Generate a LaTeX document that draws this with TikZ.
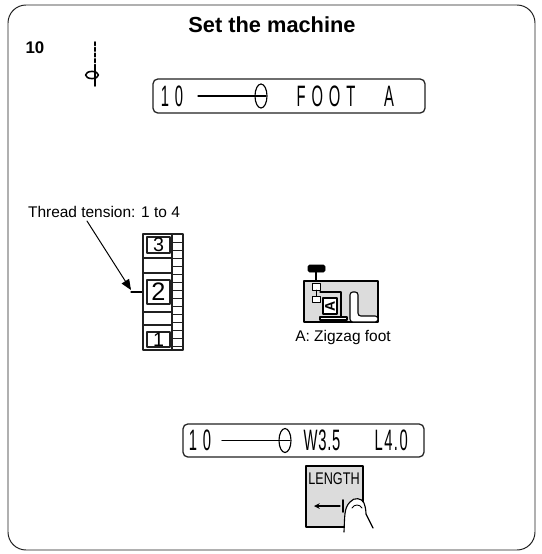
\documentclass[tikz,border=0pt]{standalone}
\usepackage{fontspec}
\setmainfont{Liberation Sans}
\newfontfamily\lcd{Liberation Sans}
\usetikzlibrary{arrows}
\definecolor{sqsqsq}{rgb}{0.12549019607843137,0.12549019607843137,0.12549019607843137}
\definecolor{dcdcdc}{rgb}{0.8627450980392157,0.8627450980392157,0.8627450980392157}
\newcommand{\lcdtext}[2][40]{\scalebox{0.5}[1]{\fontsize{21}{21}\selectfont\lcd\addfontfeature{LetterSpace=#1}#2}}
\tikzset{
  lcdbox/.style={line width=0.9pt,color=sqsqsq,rounded corners=0.12cm},
  dialline/.style={line width=0.8pt,color=sqsqsq}
}

\begin{document}
\begin{tikzpicture}[line cap=round,line join=round,>=triangle 45,x=1.0cm,y=1.0cm,scale=1]
\useasboundingbox (0.,0.) rectangle (13.525,-13.85);
\draw [line width=0.7pt,color=sqsqsq,rounded corners=0.45cm] (0.2,-0.125) rectangle (13.375,-13.75);
\node (title) at (6.8,-0.625) {\fontsize{15.5}{18}\selectfont\bfseries Set the machine};
\node (stitchno) at (0.875,-1.2) {\fontsize{12}{14}\selectfont\bfseries 10};
% needle position
\draw [line width=1.1pt,dash pattern=on 2.5pt off 1.5pt] (2.375,-1.05) -- (2.375,-1.65);
\draw [line width=1.1pt] (2.375,-1.65) -- (2.375,-2.15);
\draw [line width=1.1pt] (2.3,-1.875) ellipse (0.16cm and 0.09cm);
% first display
\draw [lcdbox] (3.825,-1.975) rectangle (10.625,-2.825);
\node (dispa) at (4.3,-2.4) {\lcdtext{10}};
\draw [line width=0.8pt] (4.95,-2.4) -- (6.65,-2.4);
\draw [line width=0.8pt] (6.525,-2.4) ellipse (0.15cm and 0.3cm);
\node (dispb) at (8.15,-2.4) {\lcdtext{FOOT}};
\node (dispc) at (9.725,-2.4) {\lcdtext{A}};
% tension dial
\node (tension) at (2.6,-5.3) {\fontsize{11}{13}\selectfont Thread tension: 1 to 4};
\coordinate (tstart) at (2.175,-5.525);
\coordinate (ttip) at (3.275,-7.25);
\coordinate (tdial) at (3.575,-7.3);
\draw [->,line width=0.7pt] (tstart) -- (ttip);
\draw [line width=0.8pt] (3.275,-7.3) -- (tdial);
\draw [dialline] (3.575,-5.85) rectangle (4.575,-8.75);
\draw [dialline] (4.3,-5.85) -- (4.3,-8.75);
\foreach \y in {-6.45,-6.825,-7.8,-8.125}
\draw [dialline] (3.575,\y) -- (4.3,\y);
\foreach \y in {-6.05,-6.25,-6.45,-6.65,-6.85,-7.05,-7.25,-7.45,-7.65,-7.85,-8.05,-8.25,-8.45,-8.65}
\draw [line width=0.6pt,color=sqsqsq] (4.3,\y) -- (4.575,\y);
\draw [dialline] (3.675,-5.925) rectangle (4.25,-6.325);
\node (three) at (3.9625,-6.125) {\fontsize{14}{14}\selectfont 3};
\draw [dialline] (3.675,-7.0) rectangle (4.25,-7.6);
\node (two) at (3.9625,-7.3) {\fontsize{18}{18}\selectfont 2};
\draw [dialline] (3.675,-8.3) rectangle (4.25,-8.675);
\node (one) at (3.9625,-8.4875) {\fontsize{14}{14}\selectfont 1};
% zigzag foot
\draw [line width=0.8pt,fill=dcdcdc] (7.6,-7.025) rectangle (9.45,-8.05);
\draw [fill=black,rounded corners=1pt] (7.7,-6.625) rectangle (8.125,-6.8);
\draw [line width=0.8pt] (7.9,-6.8) -- (7.9,-7.025);
\draw [line width=0.7pt,fill=white] (7.8,-7.075) rectangle (8.0,-7.25);
\draw [line width=0.7pt,fill=white] (7.8,-7.4) rectangle (8.0,-7.55);
\draw [line width=0.7pt] (7.9,-7.25) -- (7.9,-7.4);
\draw [line width=0.8pt] (8.0,-7.3) -- (8.525,-7.3) -- (8.525,-7.9);
\draw [line width=0.8pt,fill=white] (8.075,-7.45) rectangle (8.425,-7.85);
\node [rotate=90] (fa) at (8.25,-7.65) {\fontsize{10}{10}\selectfont\bfseries A};
\draw [line width=0.8pt,fill=white] (8.0,-7.925) rectangle (8.675,-8.0);
\draw [line width=0.8pt,fill=white,rounded corners=2pt] (8.75,-8.05) -- (8.75,-7.3) -- (8.95,-7.3) -- (8.95,-7.9) -- (9.45,-7.9) -- (9.45,-8.05) -- cycle;
\node (foot) at (8.575,-8.425) {\fontsize{11}{13}\selectfont A: Zigzag foot};
% second display
\draw [lcdbox] (4.575,-10.6) rectangle (10.6,-11.425);
\node (dispd) at (5.0,-11.0125) {\lcdtext{10}};
\draw [line width=0.8pt] (5.55,-11.0125) -- (7.25,-11.0125);
\draw [line width=0.8pt] (7.125,-11.0125) ellipse (0.15cm and 0.3cm);
\node (dispe) at (8.05,-11.0125) {\lcdtext[5]{W3.5}};
\node (dispf) at (9.78,-11.0125) {\lcdtext[10]{L4.0}};
% length key
\draw [line width=0.8pt,fill=dcdcdc] (7.65,-11.65) rectangle (9.075,-13.175);
\node (lengthkey) at (8.35,-11.975) {\scalebox{0.75}[1]{\fontsize{12}{12}\selectfont LENGTH}};
\draw [->,line width=0.8pt,>=stealth] (8.5,-12.65) -- (7.85,-12.65);
\draw [line width=1.2pt] (8.575,-12.5) -- (8.575,-12.8);
\draw [line width=0.8pt,fill=white] (8.6,-13.3) .. controls (8.62,-12.9) and (8.6,-12.7) .. (8.75,-12.55) .. controls (8.85,-12.42) and (9.05,-12.45) .. (9.1,-12.575) .. controls (9.15,-12.7) and (9.15,-12.85) .. (9.15,-12.85) -- (9.325,-13.2);
\draw [line width=0.6pt] (8.8,-12.7) .. controls (8.85,-12.6) and (9.0,-12.6) .. (9.05,-12.7);
\end{tikzpicture}
\end{document}
